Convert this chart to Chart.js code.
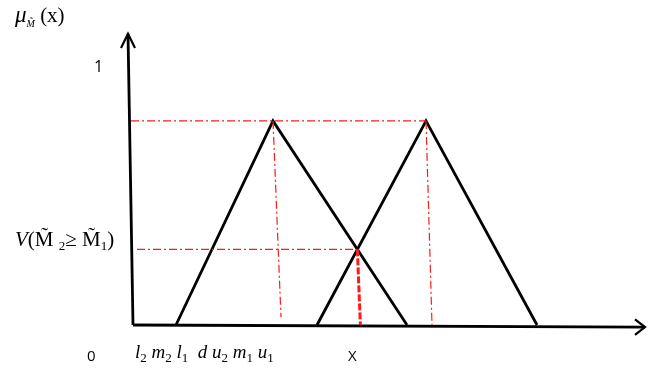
<!DOCTYPE html>
<html>
<head>
<meta charset="utf-8">
<script src="https://cdn.jsdelivr.net/npm/chart.js@4.4.1/dist/chart.umd.min.js"></script>
<style>
  html, body { margin: 0; padding: 0; background: #fff; }
  #wrap { width: 654px; height: 369px; }
</style>
</head>
<body>
<div id="wrap"><canvas id="chart" width="654" height="369"></canvas></div>
<script>
// ── data (x in horizontal units, y = membership degree) ──
const leftTri  = [176, 273, 407];   // l2, m2, u2
const rightTri = [317, 426, 537];   // l1, m1, u1
const peak     = 0.785;             // height of both triangles
const yAxisX   = [128, 133];        // top, bottom of the (slightly slanted) mu axis
const yAxisTop = 1.12;
const xAxisEnd = 645;
const xAxisY   = [0, -0.008];       // start, end
const peakGuideStart = 131;
const dGuideStart    = 137;
const apexDrift      = [8, 6];      // guide lines lean a little to the right

// intersection of the right edge of leftTri with the left edge of rightTri
function crossing(a, b) {
  const s1 = -peak / (a[2] - a[1]);
  const s2 =  peak / (b[1] - b[0]);
  const x = (peak - s1 * a[1] + s2 * b[0]) / (s2 - s1);
  return { x, y: s2 * (x - b[0]) };
}
const d = crossing(leftTri, rightTri);

const tri = t => [{ x: t[0], y: 0 }, { x: t[1], y: peak }, { x: t[2], y: 0 }];
const black = { borderColor: '#000', borderWidth: 2.8, showLine: true, pointRadius: 0, fill: false };
const red   = { borderColor: '#ff1a1a', borderWidth: 1.2, showLine: true, pointRadius: 0, fill: false,
                borderDash: [8, 3, 2, 3] };

const datasets = [
  // guides
  { ...red, data: [{ x: peakGuideStart, y: peak }, { x: rightTri[1], y: peak }] },
  { ...red, data: [{ x: dGuideStart, y: d.y }, { x: d.x, y: d.y }] },
  { ...red, data: [{ x: leftTri[1], y: peak }, { x: leftTri[1] + apexDrift[0], y: 0.03 }] },
  { ...red, data: [{ x: rightTri[1], y: peak }, { x: rightTri[1] + apexDrift[1], y: 0 }] },
  { ...red, borderWidth: 3, borderDash: [7, 2], data: [{ x: d.x, y: d.y }, { x: d.x + 3, y: 0 }] },
  // triangles
  { ...black, data: tri(leftTri) },
  { ...black, data: tri(rightTri) },
  // axes
  { ...black, data: [{ x: yAxisX[0], y: yAxisTop }, { x: yAxisX[1], y: 0 }] },
  { ...black, data: [{ x: yAxisX[1], y: xAxisY[0] }, { x: xAxisEnd, y: xAxisY[1] }] },
  // arrow heads
  { ...black, borderWidth: 2.2, data: [{ x: yAxisX[0] - 7, y: yAxisTop - 0.055 }, { x: yAxisX[0], y: yAxisTop }, { x: yAxisX[0] + 7, y: yAxisTop - 0.055 }] },
  { ...black, borderWidth: 2.2, data: [{ x: xAxisEnd - 10, y: xAxisY[1] + 0.03 }, { x: xAxisEnd, y: xAxisY[1] }, { x: xAxisEnd - 10, y: xAxisY[1] - 0.03 }] }
];

// ── text labels ──
const SERIF = "'Liberation Serif', serif";
const SANS  = "'Open Sans', sans-serif";

function rich(ctx, x, y, parts) {
  parts.forEach(p => {
    ctx.font = p.font;
    ctx.fillText(p.t, x, y + (p.dy || 0));
    x += ctx.measureText(p.t).width;
  });
}

const labels = {
  id: 'labels',
  afterDraw(chart) {
    const ctx = chart.ctx;
    ctx.save();
    ctx.fillStyle = '#000';
    ctx.textBaseline = 'alphabetic';
    const it = s => `italic ${s}px ${SERIF}`;
    const rm = s => `${s}px ${SERIF}`;

    rich(ctx, 15, 22, [
      { t: 'μ', font: it(23) },
      { t: 'M̃', font: it(10), dy: 5 },
      { t: ' (x)', font: rm(21) }
    ]);

    ctx.font = `16px ${SANS}`;
    ctx.fillText('1', 94, 72);

    rich(ctx, 15, 246, [
      { t: 'V', font: it(21) },
      { t: '(M̃ ', font: rm(21) },
      { t: '2', font: rm(13), dy: 4 },
      { t: '≥ M̃', font: rm(21) },
      { t: '1', font: rm(13), dy: 4 },
      { t: ')', font: rm(21) }
    ]);

    ctx.font = `15px ${SANS}`;
    ctx.fillText('0', 87, 361);
    ctx.fillText('X', 348, 361);

    rich(ctx, 135, 358, [
      { t: 'l', font: it(19) }, { t: '2', font: rm(13), dy: 4 },
      { t: ' m', font: it(19) }, { t: '2', font: rm(13), dy: 4 },
      { t: ' l', font: it(19) }, { t: '1', font: rm(13), dy: 4 },
      { t: '  d', font: it(19) },
      { t: ' u', font: it(19) }, { t: '2', font: rm(13), dy: 4 },
      { t: ' m', font: it(19) }, { t: '1', font: rm(13), dy: 4 },
      { t: ' u', font: it(19) }, { t: '1', font: rm(13), dy: 4 }
    ]);
    ctx.restore();
  }
};

new Chart(document.getElementById('chart'), {
  type: 'scatter',
  data: { datasets },
  options: {
    responsive: false,
    animation: false,
    layout: { padding: 0 },
    plugins: { legend: { display: false }, tooltip: { enabled: false } },
    elements: { line: { tension: 0, borderCapStyle: 'butt', borderJoinStyle: 'miter' } },
    scales: {
      x: { type: 'linear', display: false, min: 0, max: 654 },
      y: { type: 'linear', display: false, min: -44 / 260, max: 1 + 65 / 260 }
    }
  },
  plugins: [labels]
});
</script>
</body>
</html>
